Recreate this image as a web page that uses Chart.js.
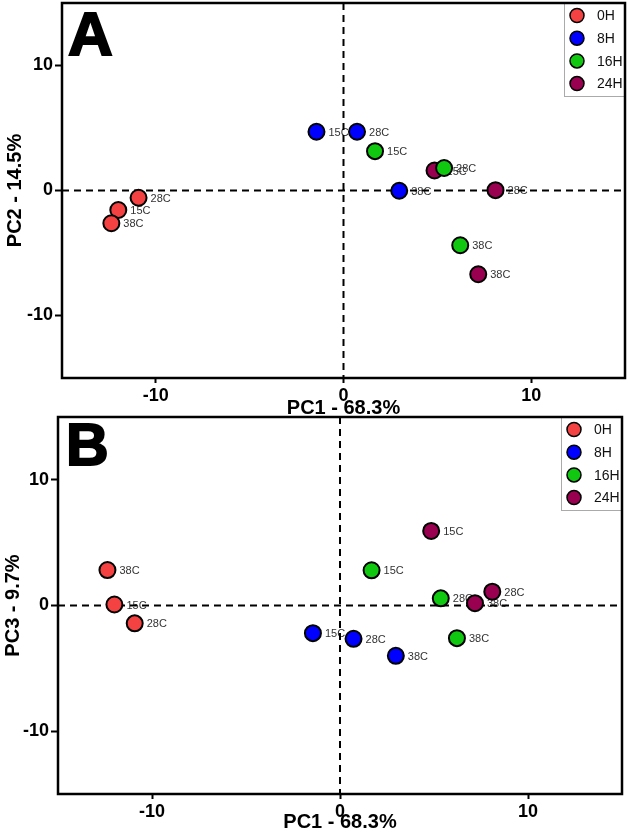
<!DOCTYPE html>
<html>
<head>
<meta charset="utf-8">
<script src="https://cdn.jsdelivr.net/npm/chart.js@4/dist/chart.umd.min.js"></script>
<style>
  html, body { margin: 0; padding: 0; background: #fff; }
  body { width: 629px; height: 832px; overflow: hidden; position: relative; }
  #wa { position: absolute; left: 0; top: 0; width: 629px; height: 424px; }
  #wb { position: absolute; left: 0; top: 412px; width: 629px; height: 420px; }
</style>
</head>
<body>
<div id="wa"><canvas id="ca" width="629" height="424"></canvas></div>
<div id="wb"><canvas id="cb" width="629" height="420"></canvas></div>
<script>
// ---------- data ----------
const groups = ['0H', '8H', '16H', '24H'];
const temps = ['15C', '28C', '38C'];
const groupColors = ['#f44242', '#0000ff', '#10c810', '#990050'];
const tickValues = [-10, 0, 10];

// PC1 scores (same in both panels), order: 15C, 28C, 38C
const pc1_0H  = [-12.0, -10.92, -12.37];
const pc1_8H  = [-1.44, 0.72, 2.97];
const pc1_16H = [1.68, 5.36, 6.22];
const pc1_24H = [4.85, 8.1, 7.18];

// PC2 scores (panel A)
const pc2_0H  = [-1.56, -0.58, -2.62];
const pc2_8H  = [4.7, 4.7, -0.02];
const pc2_16H = [3.15, 1.8, -4.38];
const pc2_24H = [1.6, 0.03, -6.7];

// PC3 scores (panel B)
const pc3_0H  = [0.08, -1.42, 2.82];
const pc3_8H  = [-2.2, -2.65, -4.0];
const pc3_16H = [2.8, 0.57, -2.6];
const pc3_24H = [5.93, 1.1, 0.18];

const pc1All = [pc1_0H, pc1_8H, pc1_16H, pc1_24H];
const pc2All = [pc2_0H, pc2_8H, pc2_16H, pc2_24H];
const pc3All = [pc3_0H, pc3_8H, pc3_16H, pc3_24H];

const FONT = '"Liberation Sans", Arial, Helvetica, sans-serif';

// ---------- decoration plugin ----------
const pcaDecor = {
  id: 'pcaDecor',
  beforeDatasetsDraw(chart, args, opts) {
    const { ctx, chartArea: a, scales: { x, y } } = chart;
    ctx.save();
    // point labels (under the markers)
    ctx.font = '11px ' + FONT;
    ctx.fillStyle = '#333';
    ctx.textBaseline = 'middle';
    ctx.textAlign = 'left';
    chart.data.datasets.forEach((ds, i) => {
      const meta = chart.getDatasetMeta(i);
      meta.data.forEach((el, j) => {
        ctx.fillText(ds.pointNames[j], el.x + 12, el.y + 1);
      });
    });
    // dashed zero lines
    ctx.strokeStyle = '#000';
    ctx.lineWidth = 2;
    ctx.setLineDash([7, 5]);
    const x0 = x.getPixelForValue(0), y0 = y.getPixelForValue(0);
    ctx.beginPath();
    ctx.moveTo(a.left, y0); ctx.lineTo(a.right, y0);
    ctx.moveTo(x0, a.top); ctx.lineTo(x0, a.bottom);
    ctx.stroke();
    ctx.restore();
  },
  afterDraw(chart, args, opts) {
    const { ctx, chartArea: a } = chart;
    ctx.save();
    // legend box
    const bw = 61, bh = 93;
    const bx = a.right - bw, by = a.top;
    ctx.fillStyle = '#fff';
    ctx.fillRect(bx, by, bw, bh);
    ctx.strokeStyle = '#aaa';
    ctx.lineWidth = 1;
    ctx.strokeRect(bx + 0.5, by + 0.5, bw, bh);
    chart.data.datasets.forEach((ds, i) => {
      const cy = by + 12.5 + i * 22.7;
      ctx.beginPath();
      ctx.arc(bx + 13, cy, 7, 0, Math.PI * 2);
      ctx.fillStyle = ds.backgroundColor;
      ctx.fill();
      ctx.lineWidth = 1.5;
      ctx.strokeStyle = '#000';
      ctx.stroke();
      ctx.fillStyle = '#111';
      ctx.font = '14px ' + FONT;
      ctx.textBaseline = 'middle';
      ctx.textAlign = 'left';
      ctx.fillText(ds.label, bx + 33, cy + 1);
    });
    // frame
    ctx.strokeStyle = '#000';
    ctx.lineWidth = 2.5;
    ctx.strokeRect(a.left, a.top, a.right - a.left, a.bottom - a.top);
    // panel letter
    ctx.font = 'bold ' + opts.size + 'px ' + FONT;
    ctx.fillStyle = '#000';
    ctx.strokeStyle = '#000';
    ctx.lineWidth = 2;
    ctx.textBaseline = 'alphabetic';
    ctx.textAlign = 'left';
    ctx.fillText(opts.letter, a.left + opts.dx, a.top + opts.dy);
    ctx.strokeText(opts.letter, a.left + opts.dx, a.top + opts.dy);
    ctx.restore();
  }
};

function zeroPad(s) {
  s.paddingTop = 0; s.paddingBottom = 0; s.paddingLeft = 0; s.paddingRight = 0;
}

function makeChart(canvasId, yAll, yTitle, geo, orders) {
  const datasets = groups.map((g, i) => ({
    label: g,
    data: pc1All[i].map((v, j) => ({ x: v, y: yAll[i][j] })),
    pointNames: temps,
    backgroundColor: groupColors[i],
    borderColor: '#000',
    borderWidth: 2,
    pointRadius: 8,
    pointHoverRadius: 8,
    order: orders[i]
  }));
  return new Chart(document.getElementById(canvasId), {
    type: 'scatter',
    data: { datasets },
    plugins: [pcaDecor],
    options: {
      responsive: false,
      animation: false,
      events: [],
      layout: { autoPadding: false, padding: { left: 0, top: geo.top, right: geo.right, bottom: 0 } },
      plugins: {
        legend: { display: false },
        tooltip: { enabled: false },
        pcaDecor: geo.letter
      },
      scales: {
        x: {
          type: 'linear',
          min: -15, max: 15,
          afterBuildTicks: s => { s.ticks = tickValues.map(v => ({ value: v })); },
          afterFit: s => { s.height = geo.xh; zeroPad(s); },
          border: { display: false },
          grid: { drawOnChartArea: false, drawTicks: true, tickLength: 5, color: '#000', tickColor: '#000', tickWidth: 2 },
          ticks: { color: '#000', padding: 2, font: { family: FONT, size: 18, weight: 'bold' }, maxRotation: 0 },
          title: { display: true, text: 'PC1 - 68.3%', color: '#000', padding: { top: 0, bottom: geo.xtpad }, font: { family: FONT, size: 20, weight: 'bold', lineHeight: 1 } }
        },
        y: {
          type: 'linear',
          min: -15, max: 15,
          afterBuildTicks: s => { s.ticks = tickValues.map(v => ({ value: v })); },
          afterFit: s => { s.width = geo.yw; zeroPad(s); },
          border: { display: false },
          grid: { drawOnChartArea: false, drawTicks: true, tickLength: 7, color: '#000', tickColor: '#000', tickWidth: 2 },
          ticks: { color: '#000', padding: 2, font: { family: FONT, size: 18, weight: 'bold' } },
          title: { display: true, text: yTitle, color: '#000', padding: { top: geo.ytpad, bottom: 0 }, font: { family: FONT, size: 20, weight: 'bold', lineHeight: 1 } }
        }
      }
    }
  });
}

makeChart('ca', pc2All, 'PC2 - 14.5%',
  { top: 3, right: 4, xh: 46, yw: 62, xtpad: 6, ytpad: 5,
    letter: { letter: 'A', size: 62, dx: 6, dy: 52 } },
  [0, 0, 0, 0]);

makeChart('cb', pc3All, 'PC3 - 9.7%',
  { top: 5, right: 7, xh: 38, yw: 58, xtpad: 0, ytpad: 3,
    letter: { letter: 'B', size: 59, dx: 8, dy: 48 } },
  [0, 0, 1, 0]);
</script>
</body>
</html>
